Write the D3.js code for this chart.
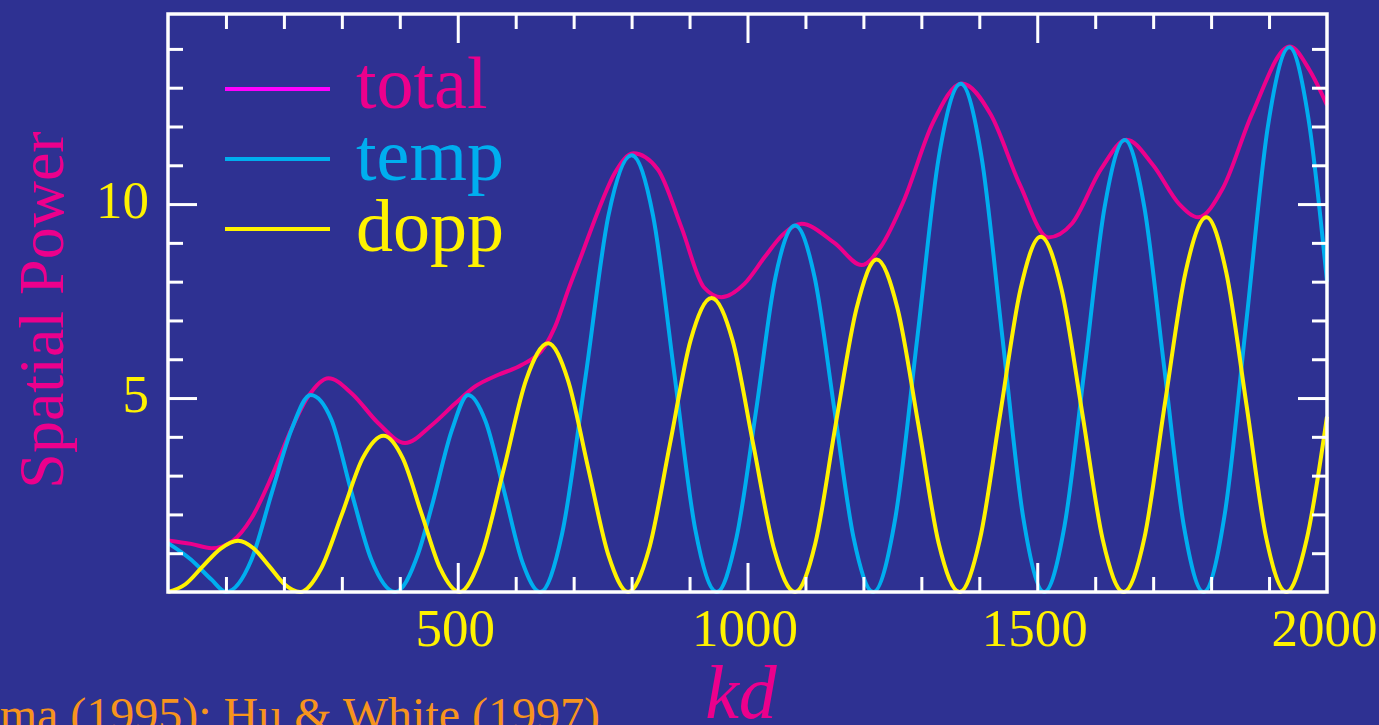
<!DOCTYPE html>
<html>
<head>
<meta charset="utf-8">
<script src="https://cdn.jsdelivr.net/npm/d3@7"></script>
<style>
  html, body { margin: 0; padding: 0; background: #2e3192; overflow: hidden; }
  svg { display: block; font-family: 'Liberation Serif', 'Times New Roman', serif; }
</style>
</head>
<body>
<div id="wrapper"></div>
<script>
// Data
const tempK = [0, 40, 75, 100, 144, 179, 213, 246, 282, 317, 351, 392, 432, 455, 490, 518, 548, 580, 612, 642, 680, 721, 760, 800, 837, 874, 910, 947, 981, 1015, 1048, 1082, 1116, 1150, 1183, 1217, 1255, 1293, 1330, 1368, 1404, 1440, 1476, 1512, 1547, 1582, 1616, 1651, 1685, 1719, 1753, 1787, 1824, 1861, 1898, 1935, 1968, 2000];
const tempV = [1.26, 0.83, 0.32, 0, 0.83, 2.55, 4.18, 5.08, 4.44, 2.55, 0.83, 0, 1.0, 2.2, 4.18, 5.08, 4.4, 2.6, 0.75, 0, 1.5, 5.6, 9.7, 11.26, 9.7, 5.6, 1.6, 0, 1.4, 4.7, 8.1, 9.45, 8.1, 4.7, 1.4, 0, 1.9, 6.55, 11.2, 13.1, 11.2, 6.55, 1.9, 0, 1.7, 5.8, 9.9, 11.65, 9.9, 5.8, 1.7, 0, 2.05, 7.0, 12.0, 14.04, 12.2, 8.0];

const doppK = [0, 30, 60, 91, 121, 148, 175, 201, 228, 264, 300, 336, 372, 405, 438, 470, 503, 541, 580, 618, 656, 690, 725, 760, 794, 830, 866, 902, 938, 974, 1010, 1046, 1082, 1117, 1152, 1188, 1223, 1259, 1295, 1330, 1366, 1401, 1436, 1471, 1506, 1542, 1578, 1613, 1649, 1685, 1720, 1756, 1792, 1826, 1861, 1895, 1930, 1965, 2000];
const doppV = [0, 0.2, 0.66, 1.12, 1.32, 1.12, 0.66, 0.2, 0, 0.6, 2.0, 3.45, 4.03, 3.45, 2.0, 0.6, 0, 0.95, 3.2, 5.47, 6.41, 5.47, 3.2, 0.95, 0, 1.1, 3.8, 6.5, 7.58, 6.5, 3.8, 1.1, 0, 1.25, 4.3, 7.3, 8.57, 7.3, 4.3, 1.25, 0, 1.35, 4.58, 7.8, 9.16, 7.8, 4.58, 1.35, 0, 1.4, 4.83, 8.25, 9.66, 8.25, 4.83, 1.4, 0, 1.36, 4.52];

const totalK = [0, 40, 75, 110, 144, 179, 213, 242, 277, 317, 363, 409, 455, 495, 530, 570, 610, 651, 668, 691, 714, 743, 771, 803, 845, 886, 925, 955, 995, 1030, 1060, 1093, 1150, 1197, 1230, 1270, 1320, 1370, 1420, 1470, 1519, 1560, 1610, 1654, 1700, 1745, 1778, 1820, 1870, 1936, 1970, 2000];
const totalV = [1.33, 1.24, 1.13, 1.30, 1.9, 2.98, 4.2, 5.04, 5.51, 5.12, 4.35, 3.84, 4.3, 4.85, 5.3, 5.6, 5.85, 6.35, 6.84, 7.8, 8.7, 9.85, 10.8, 11.31, 10.9, 9.4, 7.85, 7.6, 7.95, 8.64, 9.2, 9.49, 9.0, 8.43, 8.9, 10.1, 12.1, 13.11, 12.3, 10.5, 9.14, 9.5, 10.9, 11.66, 11.0, 10.0, 9.66, 10.4, 12.3, 14.06, 13.45, 12.55];

const seriesNames = ['total', 'temp', 'dopp'];
const xTickLabels = [500, 1000, 1500, 2000];
const yTickLabels = [5, 10];

// Dimension
const dimension = {width: 1379, height: 725,
  margin: {top: 14, bottom: 133, left: 168, right: 52}};
dimension.boundWidth = dimension.width - dimension.margin.left - dimension.margin.right;
dimension.boundHeight = dimension.height - dimension.margin.top - dimension.margin.bottom;

const colors = {total: '#ec008c', temp: '#00aeef', dopp: '#fff200'};
const legendLineColors = {total: '#ff00ff', temp: '#00aeef', dopp: '#fff200'};

// Canvas
const svg = d3.select('#wrapper').append('svg')
  .attr('width', dimension.width).attr('height', dimension.height);
svg.append('rect').attr('width', dimension.width).attr('height', dimension.height).attr('fill', '#2e3192');

const x = d3.scaleLinear().domain([0, 2000])
  .range([dimension.margin.left, dimension.margin.left + dimension.boundWidth]);
const y = d3.scaleLinear().domain([0, 14.9])
  .range([dimension.margin.top + dimension.boundHeight, dimension.margin.top]);

// Curves
const line = d3.line().x(d => x(d[0])).y(d => y(d[1])).curve(d3.curveMonotoneX);
const series = {
  total: d3.zip(totalK, totalV),
  temp: d3.zip(tempK, tempV),
  dopp: d3.zip(doppK, doppV)
};
['total', 'temp', 'dopp'].forEach(name => {
  svg.append('path').datum(series[name])
    .attr('d', line).attr('fill', 'none')
    .attr('stroke', colors[name]).attr('stroke-width', 4)
    .attr('stroke-linejoin', 'round');
});

// Axes: inward ticks on all four sides
const minorX = d3.range(100, 2000, 100).filter(v => v % 500 != 0);
const majorX = [500, 1000, 1500];
const minorY = d3.range(1, 15).filter(v => v % 5 != 0);
const majorY = [5, 10];

const tickAxis = (gen, vals, size, tr) => {
  const g = svg.append('g').attr('transform', tr)
    .call(gen.tickValues(vals).tickSize(size).tickFormat(''));
  g.select('.domain').remove();
  g.selectAll('line').attr('stroke', 'white').attr('stroke-width', 3);
};
const yBottom = y(0), yTop = y(14.9), xLeft = x(0), xRight = x(2000);
tickAxis(d3.axisBottom(x), minorX, -15, `translate(0,${yBottom})`);
tickAxis(d3.axisBottom(x), majorX, -29, `translate(0,${yBottom})`);
tickAxis(d3.axisTop(x), minorX, -15, `translate(0,${yTop})`);
tickAxis(d3.axisTop(x), majorX, -29, `translate(0,${yTop})`);
tickAxis(d3.axisLeft(y), minorY, -15, `translate(${xLeft},0)`);
tickAxis(d3.axisLeft(y), majorY, -29, `translate(${xLeft},0)`);
tickAxis(d3.axisRight(y), minorY, -15, `translate(${xRight},0)`);
tickAxis(d3.axisRight(y), majorY, -29, `translate(${xRight},0)`);

// frame
svg.append('rect')
  .attr('x', xLeft).attr('y', yTop)
  .attr('width', xRight - xLeft).attr('height', yBottom - yTop)
  .attr('fill', 'none').attr('stroke', 'white').attr('stroke-width', 3.5);

// Tick labels
const xLabels = svg.append('g').attr('transform', `translate(0,${yBottom})`)
  .call(d3.axisBottom(x).tickValues(xTickLabels).tickSize(0).tickPadding(0).tickFormat(d3.format('d')));
xLabels.select('.domain').remove();
xLabels.selectAll('text').attr('y', 54).attr('dy', 0).attr('dx', -3)
  .attr('fill', '#fff200').style('font-size', '53px')
  .style('font-family', "'Liberation Serif', 'Times New Roman', serif");

const yLabels = svg.append('g').attr('transform', `translate(${xLeft},0)`)
  .call(d3.axisLeft(y).tickValues(yTickLabels).tickSize(0).tickPadding(0).tickFormat(d3.format('d')));
yLabels.select('.domain').remove();
yLabels.selectAll('text').attr('x', -19).attr('dy', 13)
  .attr('fill', '#fff200').style('font-size', '53px')
  .style('font-family', "'Liberation Serif', 'Times New Roman', serif");

// Axis titles
svg.append('text').text('Spatial Power')
  .attr('transform', 'translate(63,310) rotate(-90)')
  .attr('text-anchor', 'middle').attr('fill', '#ec008c')
  .style('font-size', '64px');
svg.append('text').text('kd')
  .attr('x', 741).attr('y', 718).attr('text-anchor', 'middle')
  .attr('fill', '#ec008c').style('font-size', '76px').style('font-style', 'italic');

// Reference note (cut at the left edge)
svg.append('text').text('Hu & Sugiyama (1995); Hu & White (1997)')
  .attr('x', 600).attr('y', 731).attr('text-anchor', 'end')
  .attr('fill', '#f7941d').style('font-size', '48px');

// Legend
const legend = svg.append('g').selectAll('g').data(seriesNames).enter().append('g')
  .attr('transform', (d, i) => `translate(0,${89 + i * 70})`);
legend.append('line').attr('x1', 225).attr('x2', 330)
  .attr('stroke', d => legendLineColors[d]).attr('stroke-width', 4);
legend.append('text').text(d => d)
  .attr('x', 356).attr('y', (d, i) => 19 + i * 1.5)
  .attr('fill', d => colors[d]).style('font-size', '74px');
</script>
</body>
</html>
